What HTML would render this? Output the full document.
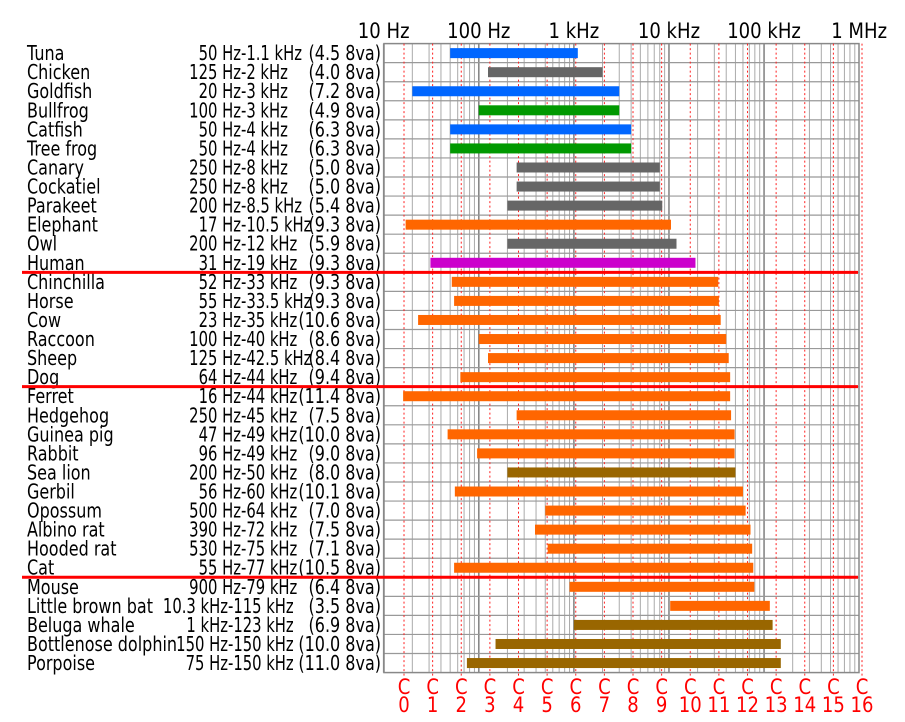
<!DOCTYPE html>
<html><head><meta charset="utf-8"><style>
body{margin:0;background:#fff;}
svg{display:block;font-family:"DejaVu Sans","Liberation Sans",sans-serif;}
</style></head><body>
<svg id="chart" width="905" height="722" viewBox="0 0 905 722" xmlns="http://www.w3.org/2000/svg"></svg>
<script>
const animals=["Tuna","Chicken","Goldfish","Bullfrog","Catfish","Tree frog","Canary","Cockatiel","Parakeet","Elephant","Owl","Human","Chinchilla","Horse","Cow","Raccoon","Sheep","Dog","Ferret","Hedgehog","Guinea pig","Rabbit","Sea lion","Gerbil","Opossum","Albino rat","Hooded rat","Cat","Mouse","Little brown bat","Beluga whale","Bottlenose dolphin","Porpoise"];
const lowHz=[50,125,20,100,50,50,250,250,200,17,200,31,52,55,23,100,125,64,16,250,47,96,200,56,500,390,530,55,900,10300,1000,150,75];
const highHz=[1100,2000,3000,3000,4000,4000,8000,8000,8500,10500,12000,19000,33000,33500,35000,40000,42500,44000,44000,45000,49000,49000,50000,60000,64000,72000,75000,77000,79000,115000,123000,150000,150000];
const lowText=["50 Hz","125 Hz","20 Hz","100 Hz","50 Hz","50 Hz","250 Hz","250 Hz","200 Hz","17 Hz","200 Hz","31 Hz","52 Hz","55 Hz","23 Hz","100 Hz","125 Hz","64 Hz","16 Hz","250 Hz","47 Hz","96 Hz","200 Hz","56 Hz","500 Hz","390 Hz","530 Hz","55 Hz","900 Hz","10.3 kHz","1 kHz","150 Hz","75 Hz"];
const highText=["1.1 kHz","2 kHz","3 kHz","3 kHz","4 kHz","4 kHz","8 kHz","8 kHz","8.5 kHz","10.5 kHz","12 kHz","19 kHz","33 kHz","33.5 kHz","35 kHz","40 kHz","42.5 kHz","44 kHz","44 kHz","45 kHz","49 kHz","49 kHz","50 kHz","60 kHz","64 kHz","72 kHz","75 kHz","77 kHz","79 kHz","115 kHz","123 kHz","150 kHz","150 kHz"];
const octaves=["4.5","4.0","7.2","4.9","6.3","6.3","5.0","5.0","5.4","9.3","5.9","9.3","9.3","9.3","10.6","8.6","8.4","9.4","11.4","7.5","10.0","9.0","8.0","10.1","7.0","7.5","7.1","10.5","6.4","3.5","6.9","10.0","11.0"];
const groups=["fish","bird","fish","frog","fish","frog","bird","bird","bird","mammal","bird","human","mammal","mammal","mammal","mammal","mammal","mammal","mammal","mammal","mammal","mammal","marine","mammal","mammal","mammal","mammal","mammal","mammal","mammal","marine","marine","marine"];
const separatorsAfter=[11,17,27];
const decadeLabels=["10 Hz","100 Hz","1 kHz","10 kHz","100 kHz","1 MHz"];
const decadeHz=[10,100,1000,10000,100000,1000000];
const cNotes=[0,1,2,3,4,5,6,7,8,9,10,11,12,13,14,15,16];

const colors={fish:"#0066ff",bird:"#666666",frog:"#009900",mammal:"#ff6600",human:"#cc00cc",marine:"#996600"};
const NS="http://www.w3.org/2000/svg";
const svg=document.getElementById("chart");
const X0=383.7, DEC=95.09, TOP=43.6, ROW=19.06, LEFT=384, RIGHT=859, SX=0.86, SX2=0.8, SX3=0.74;
const xs=f=>X0+DEC*Math.log10(f/10);
const yRow=i=>TOP+ROW*i;
function el(tag,attrs,parent){const e=document.createElementNS(NS,tag);for(const k in attrs)e.setAttribute(k,attrs[k]);(parent||svg).appendChild(e);return e;}
const n=animals.length, BOTTOM=yRow(n);

const grid=el("g",{});


for(let d=0;d<5;d++){for(let m=1;m<10;m++){const f=10*Math.pow(10,d)*m;const x=xs(f);
 el("line",{x1:x,x2:x,y1:TOP,y2:BOTTOM,stroke:m==1?"#888":"#aaa","stroke-width":m==1?1.6:1},grid);}}
for(let i=1;i<n;i++){el("line",{x1:LEFT,x2:RIGHT,y1:yRow(i),y2:yRow(i),stroke:"#999","stroke-width":1.2},grid);}
const frame=el("rect",{x:LEFT,y:TOP,width:RIGHT-LEFT,height:BOTTOM-TOP,fill:"none",stroke:"#888","stroke-width":1.5});



const tg=el("g",{transform:"scale("+SX+",1)"});
const tg2=el("g",{transform:"scale("+SX2+",1)"});
const tg3=el("g",{transform:"scale("+SX3+",1)"});
cNotes.forEach(c=>{const x=xs(16.3516*Math.pow(2,c));
 const l=el("line",{x1:x,x2:x,y1:TOP,y2:676,stroke:"#ff2020","stroke-width":1,"stroke-dasharray":"2,2.5"});
 
 
 const t=el("text",{x:x/SX,y:694,"text-anchor":"middle",fill:"#ff0000","font-size":"21"},tg);t.textContent="C";
 
 
 const t2=el("text",{x:x/SX,y:712,"text-anchor":"middle",fill:"#ff0000","font-size":"21"},tg);t2.textContent=String(c);
 
 
});

decadeHz.forEach((f,i)=>{const t=el("text",{x:xs(f)/SX,y:38,"text-anchor":"middle",fill:"#000","font-size":"21"},tg);t.textContent=decadeLabels[i];
 
 });

animals.forEach((a,i)=>{const yc=yRow(i)+ROW/2;
 const nm=el("text",{x:27/SX2,y:yc+7,"font-size":"20",fill:"#000"},tg2);nm.textContent=a;
 
 
 const dash=highHz[i]>=100000?228:241;
 const lt=el("text",{x:dash/SX3,y:yc+7,"font-size":"20","text-anchor":"end"},tg3);lt.textContent=lowText[i];
 
 
 const ht=el("text",{x:dash/SX3,y:yc+7,"font-size":"20"},tg3);ht.textContent="-"+highText[i];
 
 
 const ot=el("text",{x:381/SX2,y:yc+7,"font-size":"20","text-anchor":"end"},tg2);ot.textContent="("+octaves[i]+" 8va)";
 
 
 const x1=xs(lowHz[i]),x2=xs(highHz[i]);
 const b=el("rect",{x:x1,y:yc-5,width:x2-x1,height:10,fill:colors[groups[i]]});
 
 
});

separatorsAfter.forEach(r=>{const y=yRow(r+1);
 const s=el("line",{x1:22,x2:858,y1:y,y2:y,stroke:"#ff0000","stroke-width":3});
 
 });
</script>
</body></html>
